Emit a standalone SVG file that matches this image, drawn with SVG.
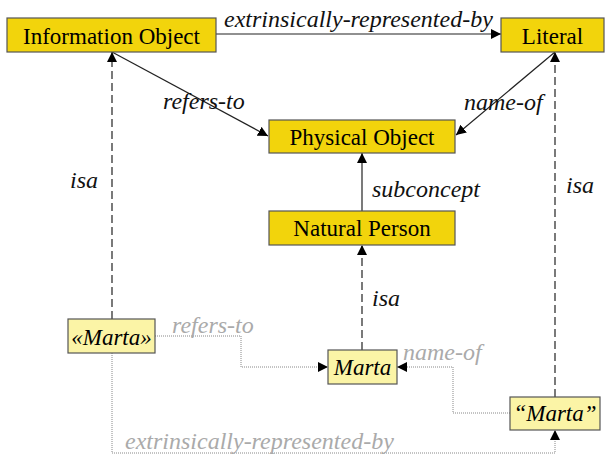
<svg xmlns="http://www.w3.org/2000/svg" width="606" height="456" viewBox="0 0 606 456">
<style>
text{font-family:'Liberation Serif','Times New Roman','DejaVu Serif',serif}
.box{fill:#F2D40C;stroke:#555;stroke-width:1.2}
.lbox{fill:#FBF4A6;stroke:#555;stroke-width:1.2}
.t{font-size:23px;fill:#000;text-anchor:middle}
.ti{font-size:23px;font-style:italic;fill:#000;text-anchor:middle}
.lab{font-size:24px;font-style:italic;fill:#111}
.glab{font-size:24px;font-style:italic;fill:#aaa}
.solid{fill:none;stroke:#222;stroke-width:1.2}
.dash{fill:none;stroke:#222;stroke-width:1.2;stroke-dasharray:8,4}
.dot{fill:none;stroke:#888;stroke-width:1;stroke-dasharray:1,1}
</style>
<defs>
<marker id="ah" viewBox="0 0 10 10" refX="10" refY="5" markerWidth="10" markerHeight="10" markerUnits="userSpaceOnUse" orient="auto">
<path d="M0,0 L10,5 L0,10 z" fill="#000"/>
</marker>
</defs>
<g id="connectors" font-family="Liberation Serif, serif">
<line class="solid" x1="216" y1="34" x2="501" y2="34" marker-end="url(#ah)"/>
<text class="lab" x="224" y="27">extrinsically-represented-by</text>
<line class="solid" x1="112" y1="52" x2="268" y2="136" marker-end="url(#ah)"/>
<text class="lab" x="163" y="109">refers-to</text>
<line class="solid" x1="555" y1="52" x2="456" y2="135" marker-end="url(#ah)"/>
<text class="lab" x="464" y="110">name-of</text>
<line class="solid" x1="362" y1="211" x2="362" y2="153" marker-end="url(#ah)"/>
<text class="lab" x="372" y="197">subconcept</text>
<line class="dash" x1="112" y1="319" x2="112" y2="52" marker-end="url(#ah)"/>
<text class="lab" x="70" y="188">isa</text>
<line class="dash" x1="362" y1="350" x2="362" y2="245" marker-end="url(#ah)"/>
<text class="lab" x="372" y="306">isa</text>
<line class="dash" x1="555" y1="397" x2="555" y2="52" marker-end="url(#ah)"/>
<text class="lab" x="566" y="193">isa</text>
<polyline class="dot" points="155,336 241,336 241,367 328,367" marker-end="url(#ah)"/>
<text class="glab" x="172" y="333">refers-to</text>
<polyline class="dot" points="510,413 453,413 453,367 397,367" marker-end="url(#ah)"/>
<text class="glab" x="403" y="360">name-of</text>
<polyline class="dot" points="112,353 112,453 555,453 555,430" marker-end="url(#ah)"/>
<text class="glab" x="125" y="449">extrinsically-represented-by</text>
</g>
<g id="information-object"><rect class="box" x="7" y="18" width="209" height="34"/><text class="t" x="111.5" y="44">Information Object</text></g>
<g id="literal"><rect class="box" x="501" y="18" width="103" height="34"/><text class="t" x="552.5" y="44">Literal</text></g>
<g id="physical-object"><rect class="box" x="269" y="120" width="186" height="33"/><text class="t" x="362" y="145">Physical Object</text></g>
<g id="natural-person"><rect class="box" x="269" y="211" width="186" height="34"/><text class="t" x="362" y="236">Natural Person</text></g>
<g id="marta-name"><rect class="lbox" x="68" y="319" width="87" height="34"/><text class="ti" x="111.5" y="345">«Marta»</text></g>
<g id="marta"><rect class="lbox" x="328" y="350" width="69" height="34"/><text class="ti" x="362.5" y="375">Marta</text></g>
<g id="marta-literal"><rect class="lbox" x="510" y="397" width="90" height="33"/><text class="ti" x="555" y="421">“Marta”</text></g>
</svg>
